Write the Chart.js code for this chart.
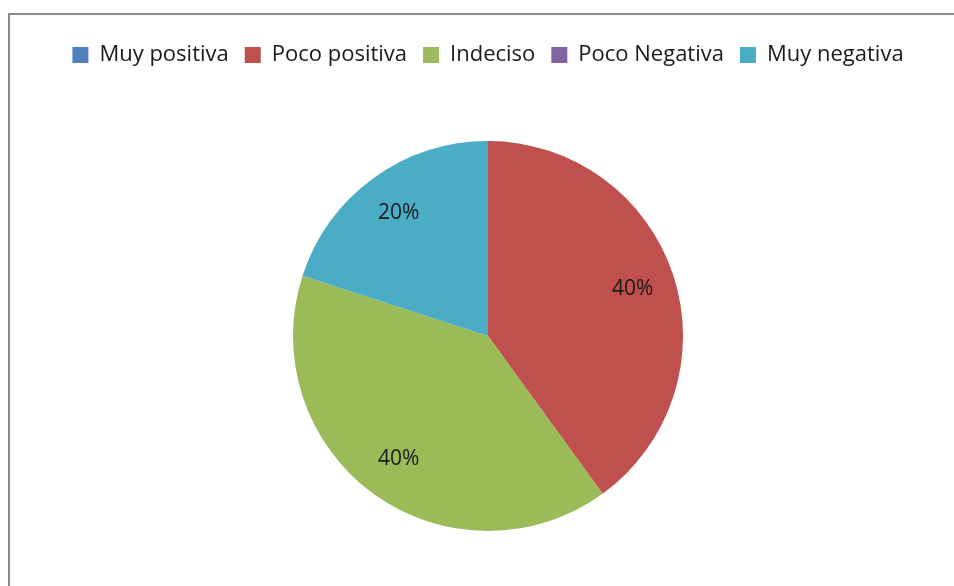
<!DOCTYPE html>
<html lang="es">
<head>
    <meta charset="UTF-8">
    <title>Opinión</title>
    <script src="https://cdn.jsdelivr.net/npm/chart.js@4/dist/chart.umd.min.js"></script>
    <style>
        * { margin: 0; padding: 0; box-sizing: border-box; }
        body { width: 954px; height: 586px; background: #fff; overflow: hidden; position: relative; }
        .frame {
            position: absolute;
            left: 8px;
            top: 13px;
            width: 1000px;
            height: 640px;
            border: 2px solid #8c8c8c;
        }
        .chart-box {
            position: absolute;
            left: 0;
            top: 0;
            width: 954px;
            height: 586px;
        }
    </style>
</head>
<body>
    <div class="frame"></div>
    <div class="chart-box">
        <canvas id="pieChart"></canvas>
    </div>

    <script>
        // Data
        const categories = ['Muy positiva', 'Poco positiva', 'Indeciso', 'Poco Negativa', 'Muy negativa'];
        const percentages = [0, 40, 40, 0, 20];
        const sliceColors = ['#4F81BD', '#C0504D', '#9BBB59', '#8064A2', '#4BACC6'];

        const fontFamily = "'Open Sans', 'Noto Sans', sans-serif";

        // push the pie down below the legend
        const legendSpacer = {
            id: 'legendSpacer',
            beforeInit(chart) {
                const fit = chart.legend.fit;
                chart.legend.fit = function () {
                    fit.bind(chart.legend)();
                    this.height += 65;
                };
            }
        };

        // percentage labels inside the slices
        const sliceLabels = {
            id: 'sliceLabels',
            afterDatasetsDraw(chart) {
                const ctx = chart.ctx;
                const meta = chart.getDatasetMeta(0);
                ctx.save();
                ctx.font = '21px ' + fontFamily;
                ctx.fillStyle = '#1a1a1a';
                ctx.textAlign = 'center';
                ctx.textBaseline = 'middle';
                meta.data.forEach((arc, i) => {
                    const v = percentages[i];
                    if (!v) return;
                    const mid = (arc.startAngle + arc.endAngle) / 2;
                    const r = arc.outerRadius * 0.78;
                    ctx.fillText(v + '%', arc.x + Math.cos(mid) * r, arc.y + Math.sin(mid) * r);
                });
                ctx.restore();
            }
        };

        new Chart(document.getElementById('pieChart'), {
            type: 'pie',
            data: {
                labels: categories,
                datasets: [{
                    data: percentages,
                    backgroundColor: sliceColors,
                    borderWidth: 0
                }]
            },
            options: {
                responsive: true,
                maintainAspectRatio: false,
                animation: false,
                layout: {
                    padding: { left: 22, top: 28, bottom: 55 }
                },
                plugins: {
                    legend: {
                        position: 'top',
                        labels: {
                            boxWidth: 16,
                            boxHeight: 16,
                            padding: 16,
                            color: '#1a1a1a',
                            font: { family: fontFamily, size: 22 }
                        }
                    },
                    tooltip: { enabled: false }
                }
            },
            plugins: [legendSpacer, sliceLabels]
        });
    </script>
</body>
</html>
